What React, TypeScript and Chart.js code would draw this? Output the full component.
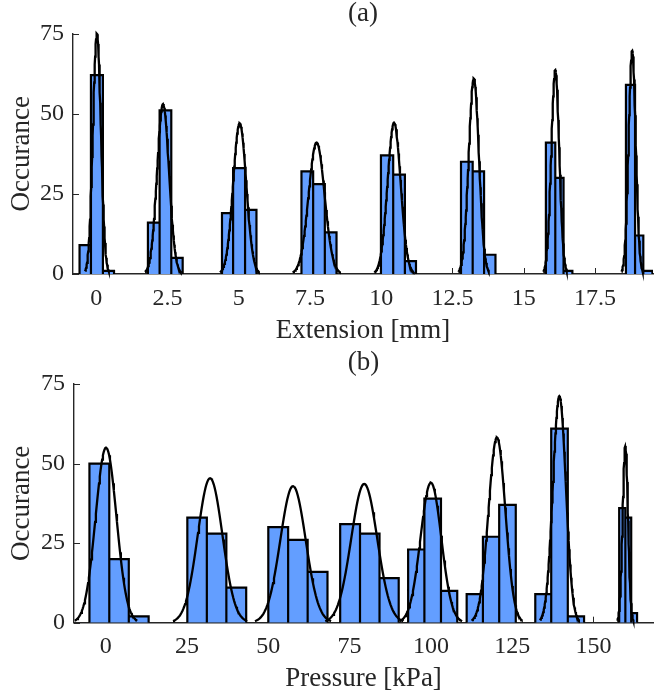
import React, { useEffect, useRef } from 'react';
import { Chart, registerables } from 'chart.js';
Chart.register(...registerables);

// ---------- Panel (a): Extension ----------
const extBinEdges = [
  [-0.59, -0.19, 0.23, 0.62],
  [1.81, 2.22, 2.63, 3.03],
  [4.41, 4.8, 5.22, 5.62],
  [7.2, 7.61, 8.02, 8.43],
  [9.99, 10.42, 10.83, 11.22],
  [12.8, 13.21, 13.61, 14.01],
  [15.78, 16.11, 16.4, 16.71],
  [18.59, 18.91, 19.2, 19.52],
];
const extCounts = [
  [9, 62, 1],
  [16, 51, 5],
  [19, 33, 20],
  [32, 28, 13],
  [37, 31, 4],
  [35, 32, 6],
  [41, 30, 1],
  [59, 12, 1],
];
const extFitMean = [0.02, 2.34, 5.03, 7.73, 10.45, 13.25, 16.11, 18.81];
const extFitSigma = [0.14, 0.21, 0.23, 0.28, 0.23, 0.18, 0.14, 0.125];
const extFitPeak = [75, 53, 47, 41, 47.2, 61, 63.6, 69.6];
const extTicks = [0, 2.5, 5, 7.5, 10, 12.5, 15, 17.5];

// ---------- Panel (b): Pressure ----------
const presBinEdges = [
  [-5.0, 1.1, 7.1, 13.2],
  [25.1, 31.1, 37.1, 43.2],
  [50.0, 56.1, 62.1, 68.2],
  [72.1, 78.2, 84.2, 90.1],
  [93.0, 98.0, 103.1, 108.1],
  [111.0, 116.0, 121.0, 126.1],
  [132.1, 137.0, 142.1, 147.1],
  [157.9, 159.8, 161.6, 163.4],
];
const presCounts = [
  [50, 20, 2],
  [33, 28, 11],
  [30, 26, 16],
  [31, 28, 14],
  [23, 39, 10],
  [9, 27, 37],
  [9, 61, 2],
  [36, 33, 3],
];
const presFitMean = [0.1, 32.1, 57.6, 79.5, 100, 120.3, 139.5, 159.8];
const presFitSigma = [3.2, 3.8, 3.9, 4.0, 3.2, 2.6, 2.0, 0.83];
const presFitPeak = [55, 45.4, 42.9, 43.6, 44, 58.2, 71.2, 55.5];
const presTicks = [0, 25, 50, 75, 100, 125, 150];

const yTicks = [0, 25, 50, 75];

const FONT = '"Liberation Serif", "Times New Roman", serif';
const TEXT = '#262626';
const AXIS = '#262626';
const BLUE = '#639EFF';

const inwardTicks = {
  id: 'inwardTicks',
  beforeDatasetsDraw(chart: any) {
    const { ctx, chartArea, scales } = chart;
    const xs = scales.x;
    const ys = scales.y;
    ctx.save();
    ctx.strokeStyle = AXIS;
    ctx.lineWidth = 1;
    ctx.beginPath();
    xs.ticks.forEach((t: any) => {
      const px = Math.round(xs.getPixelForValue(t.value)) + 0.5;
      ctx.moveTo(px, chartArea.bottom);
      ctx.lineTo(px, chartArea.bottom - 6);
    });
    ys.ticks.forEach((t: any) => {
      const py = Math.round(ys.getPixelForValue(t.value)) + 0.5;
      ctx.moveTo(chartArea.left, py);
      ctx.lineTo(chartArea.left + 6, py);
    });
    ctx.stroke();
    ctx.restore();
  },
};

type PanelProps = {
  label: string;
  xTitle: string;
  edges: number[][];
  counts: number[][];
  mean: number[];
  sigma: number[];
  peak: number[];
  ticks: number[];
  xMin: number;
  xMax: number;
  yAxisWidth: number;
  xAxisHeight: number;
  titlePadBottom: number;
  xTitlePadBottom: number;
};

function Panel(p: PanelProps) {
  const ref = useRef<HTMLCanvasElement>(null);
  useEffect(() => {
    const barSets = p.edges.map((e, g) => {
      const pts: { x: number; y: number }[] = [];
      p.counts[g].forEach((c, i) => {
        pts.push({ x: e[i], y: 0 }, { x: e[i], y: c }, { x: e[i + 1], y: c }, { x: e[i + 1], y: 0 });
      });
      return {
        type: 'line',
        data: pts,
        borderColor: '#000',
        borderWidth: 2.2,
        borderJoinStyle: 'miter',
        backgroundColor: BLUE,
        fill: 'origin',
        pointRadius: 0,
        tension: 0,
        order: 2,
      };
    });
    const fitSets = p.mean.map((mu, g) => {
      const s = p.sigma[g];
      const pk = p.peak[g];
      const pts: { x: number; y: number }[] = [];
      const n = 80;
      for (let k = 0; k <= n; k++) {
        const x = mu - 3 * s + (6 * s * k) / n;
        pts.push({ x, y: pk * Math.exp(-0.5 * ((x - mu) / s) ** 2) });
      }
      return {
        type: 'line',
        data: pts,
        borderColor: '#000',
        borderWidth: 2.3,
        fill: false,
        pointRadius: 0,
        tension: 0,
        clip: false,
        order: 1,
      };
    });

    const chart = new Chart(ref.current as HTMLCanvasElement, {
      type: 'line',
      data: { datasets: [...fitSets, ...barSets] as any },
      options: {
        responsive: false,
        animation: false,
        devicePixelRatio: 1,
        layout: { padding: { left: 0, right: 1, top: 0, bottom: 0 } },
        plugins: {
          legend: { display: false },
          tooltip: { enabled: false },
          title: {
            display: true,
            text: p.label,
            fullSize: false,
            color: TEXT,
            font: { family: FONT, size: 27, weight: 'normal', lineHeight: 1 },
            padding: { top: 0, bottom: p.titlePadBottom },
          },
        },
        scales: {
          x: {
            type: 'linear',
            min: p.xMin,
            max: p.xMax,
            grid: { display: false, drawTicks: false },
            border: { display: true, color: AXIS, width: 1.4 },
            ticks: {
              color: TEXT,
              font: { family: FONT, size: 24 },
              padding: 10,
              includeBounds: false,
              autoSkip: false,
              maxRotation: 0,
              callback: (v: any) => String(v),
            },
            afterBuildTicks: (ax: any) => {
              ax.ticks = p.ticks.map((v) => ({ value: v }));
            },
            afterFit: (s: any) => {
              s.height = p.xAxisHeight;
            },
            title: {
              display: true,
              text: p.xTitle,
              color: TEXT,
              font: { family: FONT, size: 27 },
              padding: { top: 0, bottom: p.xTitlePadBottom },
            },
          },
          y: {
            type: 'linear',
            min: 0,
            max: 75,
            grid: { display: false, drawTicks: false },
            border: { display: true, color: AXIS, width: 1.4 },
            ticks: {
              color: TEXT,
              font: { family: FONT, size: 24 },
              padding: 9,
              includeBounds: false,
              callback: (v: any) => String(v),
            },
            afterBuildTicks: (ax: any) => {
              ax.ticks = yTicks.map((v) => ({ value: v }));
            },
            afterFit: (s: any) => {
              s.width = p.yAxisWidth;
            },
            title: {
              display: true,
              text: 'Occurance',
              color: TEXT,
              font: { family: FONT, size: 27 },
              padding: { top: 6, bottom: 0 },
            },
          },
        },
      } as any,
      plugins: [inwardTicks],
    });
    return () => chart.destroy();
  }, []);
  return <canvas ref={ref} width={654} height={349} style={{ display: 'block', width: 654, height: 349 }} />;
}

export default function App() {
  useEffect(() => {
    document.body.style.margin = '0';
  }, []);
  return (
    <div style={{ width: 654, height: 698, background: '#fff' }}>
      <Panel
        label="(a)"
        xTitle="Extension [mm]"
        edges={extBinEdges}
        counts={extCounts}
        mean={extFitMean}
        sigma={extFitSigma}
        peak={extFitPeak}
        ticks={extTicks}
        xMin={-0.82}
        xMax={19.54}
        yAxisWidth={73}
        xAxisHeight={75}
        titlePadBottom={6.5}
        xTitlePadBottom={2}
      />
      <Panel
        label="(b)"
        xTitle="Pressure [kPa]"
        edges={presBinEdges}
        counts={presCounts}
        mean={presFitMean}
        sigma={presFitSigma}
        peak={presFitPeak}
        ticks={presTicks}
        xMin={-9.75}
        xMax={168.3}
        yAxisWidth={74}
        xAxisHeight={75.3}
        titlePadBottom={8}
        xTitlePadBottom={2.5}
      />
    </div>
  );
}
